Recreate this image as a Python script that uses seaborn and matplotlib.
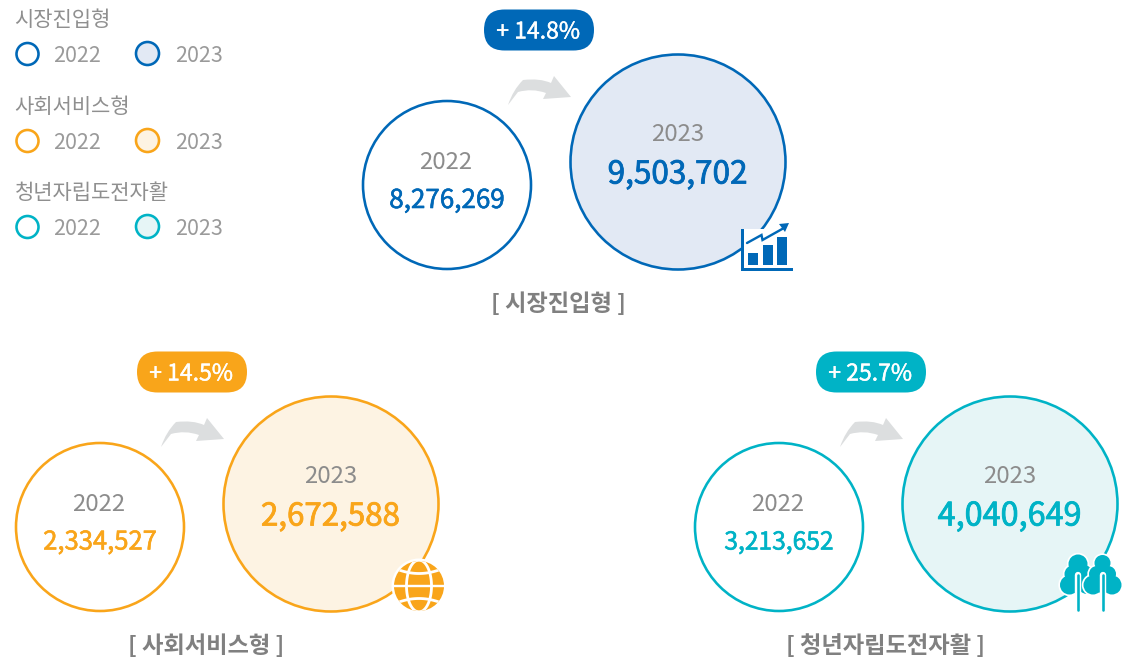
import numpy as np
import pandas as pd
import matplotlib
matplotlib.use("Agg")
import matplotlib.pyplot as plt
import matplotlib.patheffects as pe
from matplotlib.patches import PathPatch, Polygon, Rectangle, Circle, FancyBboxPatch
from matplotlib.path import Path
import seaborn as sns

categories = ["시장진입형", "사회서비스형", "청년자립도전자활"]
years = ["2022", "2023"]
values_2022 = [8276269, 2334527, 3213652]
values_2023 = [9503702, 2672588, 4040649]
growth = ["+ 14.8%", "+ 14.5%", "+ 25.7%"]
line_colors = ["#0068B7", "#F9A51A", "#00B3C6"]
fill_colors = ["#E2E9F4", "#FDF3E3", "#E6F5F6"]

sns.set_theme(style="white")
plt.rcParams["font.family"] = ["Noto Sans CJK KR", "DejaVu Sans"]
W, H = 1129, 659
fig = plt.figure(figsize=(W / 100, H / 100), dpi=100)
ax = fig.add_axes([0, 0, 1, 1])
PX = 0.72
GRAY = "#8C8C8C"

origins = [(0, 0), (-347, 342), (332, 342)]
label_x = [558.5, 206, 885.5]
size_2022 = [26, 25.6, 24.6]
size_2023 = [31.5, 31.3, 32.4]
small_c = (447, 185)
big_c = (678, 162)
r_small, r_big = 84, 107.5
lw = 2.6


def dia(r):
    return (2 * r * PX) ** 2


rows = []
for i, c in enumerate(categories):
    dx, dy = origins[i]
    rows.append(dict(x=small_c[0] + dx, y=small_c[1] + dy, s=dia(r_small), fc="#FFFFFF", ec=line_colors[i]))
    rows.append(dict(x=big_c[0] + dx, y=big_c[1] + dy, s=dia(r_big), fc=fill_colors[i], ec=line_colors[i]))
legend_y = [54, 141, 227]
for i, c in enumerate(categories):
    rows.append(dict(x=27.5, y=legend_y[i], s=dia(11), fc="#FFFFFF", ec=line_colors[i]))
    rows.append(dict(x=147.5, y=legend_y[i] - 0.5, s=dia(11.5), fc=fill_colors[i], ec=line_colors[i]))
df = pd.DataFrame(rows)

for (fc, ec), g in df.groupby(["fc", "ec"], sort=False):
    sns.scatterplot(data=g, x="x", y="y", s=g["s"].values, color=fc, edgecolor=ec,
                    linewidth=lw * PX, ax=ax, legend=False, zorder=2, clip_on=False)

ax.set_xlim(0, W)
ax.set_ylim(H, 0)
ax.axis("off")


def T(x, y, s, px, color=GRAY, ha="center", weight="normal", z=5, stroke=0):
    t = ax.text(x, y, s, fontsize=px * PX, color=color, ha=ha, va="center", fontweight=weight, zorder=z)
    if stroke:
        t.set_path_effects([pe.withStroke(linewidth=stroke * PX, foreground=color)])


title_y = [20, 107, 193]
for i, c in enumerate(categories):
    T(14.5, title_y[i], c, 21, ha="left", color="#8F8F8F")
    T(53.5, legend_y[i] + 2, years[0], 21.5, ha="left", color="#9A9A9A")
    T(175.5, legend_y[i] + 2, years[1], 21.5, ha="left", color="#9A9A9A")

arrow_pts = [(508, 105), (513, 90), (523, 80), (540, 78), (551, 83), (554, 76), (571, 97), (543, 99), (546, 93), (532, 88), (518, 92), (508, 105)]
arrow_codes = [Path.MOVETO, Path.CURVE3, Path.CURVE3, Path.CURVE3, Path.CURVE3, Path.LINETO, Path.LINETO, Path.LINETO, Path.LINETO, Path.CURVE3, Path.CURVE3, Path.LINETO]

for i, c in enumerate(categories):
    dx, dy = origins[i]
    col = line_colors[i]
    T(small_c[0] - 1 + dx, 162.5 + dy, years[0], 24)
    T(small_c[0] + dx, 200.5 + dy, f"{values_2022[i]:,}", size_2022[i], color=col, stroke=0.6)
    T(big_c[0] - 0.5 + dx, 134.5 + dy, years[1], 24)
    T(big_c[0] - 0.5 + dx, 174.5 + dy, f"{values_2023[i]:,}", size_2023[i], color=col, stroke=0.8)
    T(label_x[i], 304 + dy, f"[ {c} ]", 23.3, color="#808080", weight="bold")
    ax.add_patch(FancyBboxPatch((484 + dx, 9.5 + dy), 110, 41, boxstyle="round,pad=0,rounding_size=20.5",
                                fc=col, ec="none", zorder=3))
    T(538 + dx, 32 + dy, growth[i], 23, color="white", stroke=0.4)
    pts = [(px + dx, py + dy) for px, py in arrow_pts]
    ax.add_patch(PathPatch(Path(pts, arrow_codes), fc="#DCDEDF", ec="none", zorder=1))

# chart icon
c0 = line_colors[0]
ax.add_patch(Rectangle((743, 229), 50, 38, fc="white", ec="none", zorder=3))
ax.add_patch(Rectangle((741, 229), 2.5, 41.5, fc=c0, ec="none", zorder=4))
ax.add_patch(Rectangle((741, 267.5), 52, 3, fc=c0, ec="none", zorder=4))
for x0, y0 in [(748, 253), (763, 245), (777, 237)]:
    ax.add_patch(Rectangle((x0, y0), 10, 265 - y0, fc=c0, ec="none", zorder=4))
ax.plot([747, 761.5, 762.5, 783], [243, 235, 240, 228.5], color=c0, lw=2.4 * PX, zorder=4, solid_joinstyle="miter")
ax.add_patch(Polygon([(789, 223), (779, 224), (785, 232)], fc=c0, ec="none", zorder=4))

# globe icon
c1 = line_colors[1]
gx, gy, gr = 419, 586, 25
ax.add_patch(Circle((gx, gy), gr + 2.5, fc="white", ec="none", zorder=3))
clip = Circle((gx, gy), gr, fc=c1, ec="none", zorder=4)
ax.add_patch(clip)
tt = np.linspace(-1, 1, 60)
for sign in (-1, 1):
    a = ax.plot(gx + sign * 12.5 * np.sqrt(1 - tt ** 2), gy + 26 * tt, color="white", lw=2.8 * PX, zorder=5)[0]
    a.set_clip_path(clip)
    b = ax.plot(gx + 26 * tt, gy + sign * (12.5 + 6 * tt ** 2), color="white", lw=2.8 * PX, zorder=5)[0]
    b.set_clip_path(clip)
ax.plot([gx - 25, gx + 25], [gy, gy], color="white", lw=2.4 * PX, zorder=5)

# trees icon
c2 = line_colors[2]
left_tree = [(1078, 564, 9.5), (1073, 574, 8.5), (1069.5, 585, 9.5), (1084, 573, 8), (1087, 585, 9)]
right_tree = [(1102.5, 563, 8), (1097, 574, 8), (1108, 574, 8), (1093, 585, 9.5), (1112, 585, 9.5), (1102, 585, 8)]
for z, blobs in ((3.0, left_tree), (3.4, right_tree)):
    for bx, by, br in blobs:
        ax.add_patch(Circle((bx, by), br + 1.7, fc="white", ec="none", zorder=z))
    for bx, by, br in blobs:
        ax.add_patch(Circle((bx, by), br, fc=c2, ec="none", zorder=z + 0.2))
for cx in (1078, 1103):
    ax.plot([cx, cx], [575, 600], color="white", lw=6.4 * PX, zorder=5, solid_capstyle="round")
    ax.plot([cx, cx], [575, 610], color=c2, lw=2.6 * PX, zorder=6, solid_capstyle="round")

fig.savefig("out.png", dpi=100, facecolor="white")
